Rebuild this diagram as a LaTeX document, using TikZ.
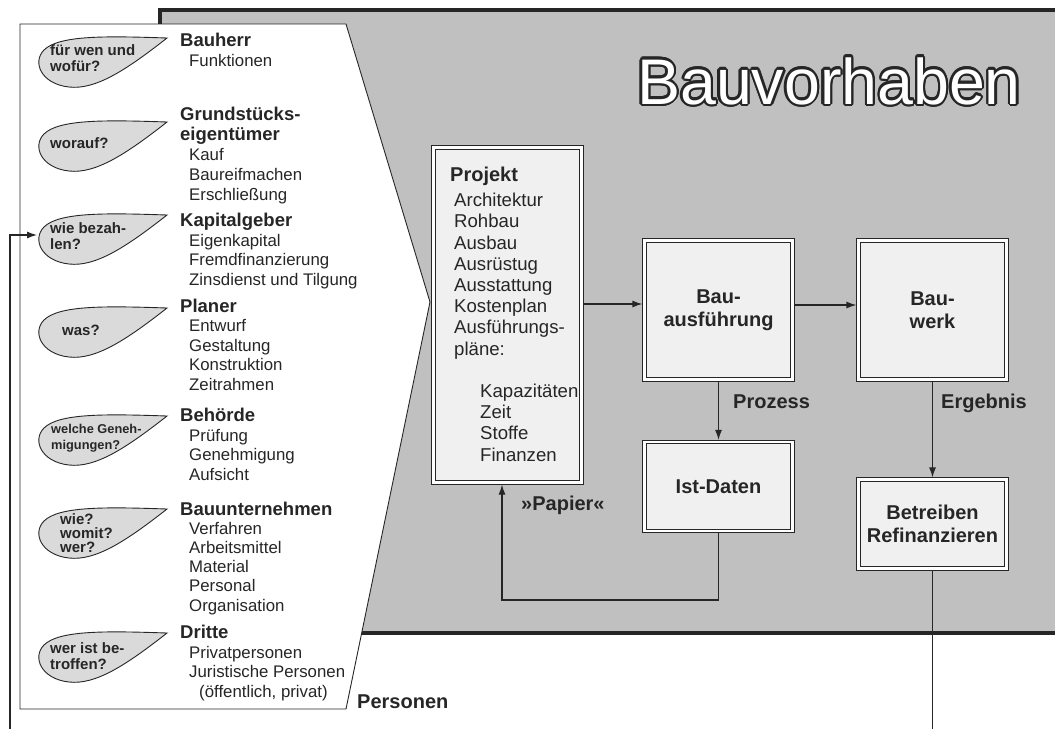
\documentclass[tikz,border=0pt]{standalone}
\usepackage{fontspec}
\setmainfont{Liberation Sans}
\usepackage{xcolor}
\usepackage{tikz}
\usetikzlibrary{arrows.meta,positioning}
\definecolor{vorhabengray}{RGB}{192,192,192}
\definecolor{boxgray}{RGB}{240,240,240}
\definecolor{dropgray}{RGB}{218,218,218}
\definecolor{linecolor}{RGB}{38,38,38}

\newcommand{\rolehead}[1]{{\bfseries\fontsize{18.5}{19.5}\selectfont #1}}
\newcommand{\roleitem}{\hspace*{9pt}}

\begin{document}
\begin{tikzpicture}[x=1pt, y=-1pt, text=linecolor,
  font=\fontsize{16.8}{19.5}\selectfont,
  % base of a multi-line node = baseline of its last line
  rolebox/.style={anchor=base west, align=left, inner sep=0pt},
  question/.style={anchor=west, align=left, inner sep=0pt, font=\bfseries\fontsize{15}{16}\selectfont},
  drop/.style={fill=dropgray, draw=linecolor, line width=0.9pt},
  flowbox/.style={draw=linecolor, line width=0.9pt, double=white, double distance=2.4pt,
    fill=boxgray, outer sep=2.1pt, minimum width=148pt, align=center,
    font=\bfseries\fontsize{20}{23}\selectfont},
  flowlabel/.style={anchor=base west, inner sep=0pt, font=\bfseries\fontsize{20}{23}\selectfont},
  flowline/.style={draw=linecolor, line width=1.2pt},
  flowarrow/.style={flowline, -{Latex[length=10pt, width=7pt]}},
  titel/.style={anchor=base, inner sep=0pt, font=\fontsize{64.5}{70}\selectfont}]

  \useasboundingbox (0,0) rectangle (1055,729);

  % Grey project frame, runs off to the right
  \filldraw[fill=vorhabengray, draw=black!85, line width=3.5pt] (160,10) rectangle (1080,633);

  % Title: dark copies around, white on top
  \coordinate (titelpos) at (829,104);
  \foreach \winkel [count=\k] in {0,22.5,...,337.5}
    \node[titel, text=black!85] (kontur\k) at ([shift={(\winkel:2.2pt)}]titelpos) {Bauvorhaben};
  \node[titel, text=white] (titel) at (titelpos) {Bauvorhaben};

  % Persons panel
  \filldraw[fill=white, draw=linecolor, line width=0.9pt]
    (20,24) -- (346,24) -- (430,302) -- (346,709) -- (20,709) -- cycle;

  % Question drops, tip at (167,y)
  \foreach \ty in {38,122,215,308,416,509,633}
    \filldraw[drop, shift={(167,\ty)}] (0,0) .. controls (-60,-2) and (-108,-3) .. (-123,12)
      .. controls (-135,24) and (-126,46) .. (-98,49)
      .. controls (-72,52) and (-42,33) .. (0,0) -- cycle;

  % Questions
  \node[question] (wofuer) at (50,58) {für wen und\\wofür?};
  \node[question] (worauf) at (50,143) {worauf?};
  \node[question] (bezahlen) at (50,236) {wie bezah-\\len?};
  \node[question] (was) at (62,330) {was?};
  \node[question, font=\bfseries\fontsize{12.8}{16}\selectfont] (genehmigung) at (51,438) {welche Geneh-\\migungen?};
  \node[question, font=\bfseries\fontsize{15}{14}\selectfont] (womit) at (60,533) {wie?\\womit?\\wer?};
  \node[question] (betroffen) at (50,656) {wer ist be-\\troffen?};

  % Roles and their tasks (placed by the last line)
  \node[rolebox] (bauherr) at (180,66) {\rolehead{Bauherr}\\\roleitem Funktionen};
  \node[rolebox, font=\fontsize{16.8}{20}\selectfont] (eigentuemer) at (180,200)
    {\rolehead{Grundstücks-}\\\rolehead{eigentümer}\\\roleitem Kauf\\\roleitem Baureifmachen\\\roleitem Erschließung};
  \node[rolebox] (kapitalgeber) at (180,285)
    {\rolehead{Kapitalgeber}\\\roleitem Eigenkapital\\\roleitem Fremdfinanzierung\\\roleitem Zinsdienst und Tilgung};
  \node[rolebox] (planer) at (180,390)
    {\rolehead{Planer}\\\roleitem Entwurf\\\roleitem Gestaltung\\\roleitem Konstruktion\\\roleitem Zeitrahmen};
  \node[rolebox] (behoerde) at (180,480)
    {\rolehead{Behörde}\\\roleitem Prüfung\\\roleitem Genehmigung\\\roleitem Aufsicht};
  \node[rolebox, font=\fontsize{16.8}{19.2}\selectfont] (unternehmen) at (180,611)
    {\rolehead{Bauunternehmen}\\\roleitem Verfahren\\\roleitem Arbeitsmittel\\\roleitem Material\\\roleitem Personal\\\roleitem Organisation};
  \node[rolebox] (dritte) at (180,697)
    {\rolehead{Dritte}\\\roleitem Privatpersonen\\\roleitem Juristische Personen\\\hspace*{19pt}(öffentlich, privat)};
  \node[flowlabel] (personen) at (357,708) {Personen};

  % Flow boxes
  \node[flowbox, minimum height=335pt] (projekt) at (507.5,315) {};
  \node[rolebox, font=\fontsize{18.6}{21.2}\selectfont] (projektliste) at (450,461)
    {{\bfseries\fontsize{20}{21.2}\selectfont Projekt}\\[3.5pt]
     \hspace*{4pt}Architektur\\\hspace*{4pt}Rohbau\\\hspace*{4pt}Ausbau\\\hspace*{4pt}Ausrüstug\\
     \hspace*{4pt}Ausstattung\\\hspace*{4pt}Kostenplan\\\hspace*{4pt}Ausführungs-\\\hspace*{4pt}pläne:\\[21.2pt]
     \hspace*{30pt}Kapazitäten\\\hspace*{30pt}Zeit\\\hspace*{30pt}Stoffe\\\hspace*{30pt}Finanzen};
  \node[flowbox, minimum height=139pt] (bauausf) at (718.5,310) {Bau-\\ausführung};
  \node[flowbox, minimum height=139pt] (bauwerk) at (932.5,310) {Bau-\\werk};
  \node[flowbox, minimum height=89pt] (istdaten) at (718.5,486.5) {Ist-Daten};
  \node[flowbox, minimum height=89pt] (betreiben) at (932.5,524) {Betreiben\\Refinanzieren};

  % Connections
  \coordinate (einlauf) at ([yshift=6pt]bauausf.west);
  \draw[flowarrow] (einlauf -| projekt.east) -- (einlauf);
  \draw[flowarrow] ([yshift=5pt]bauausf.east) -- ([yshift=5pt]bauwerk.west);
  \draw[flowarrow] (bauausf) -- (istdaten);
  \draw[flowarrow] (bauwerk) -- (betreiben);
  \node[flowlabel] (prozess) at (733,408) {Prozess};
  \node[flowlabel] (ergebnis) at (941,408) {Ergebnis};

  % Feedback of the actual data
  \coordinate (papierknick) at (502,600);
  \draw[flowarrow] (istdaten.south) |- (papierknick) -- (papierknick |- projekt.south);
  \node[flowlabel] (papier) at (521,510) {»Papier«};

  % Lines leaving the picture
  \coordinate (linksunten) at (10,729);
  \coordinate (bezahlenrand) at (37,235);
  \draw[flowarrow] (linksunten) |- (bezahlenrand);
  \coordinate (rechtsunten) at (932.5,729);
  \draw[flowline] (betreiben) -- (rechtsunten);

\end{tikzpicture}
\end{document}
